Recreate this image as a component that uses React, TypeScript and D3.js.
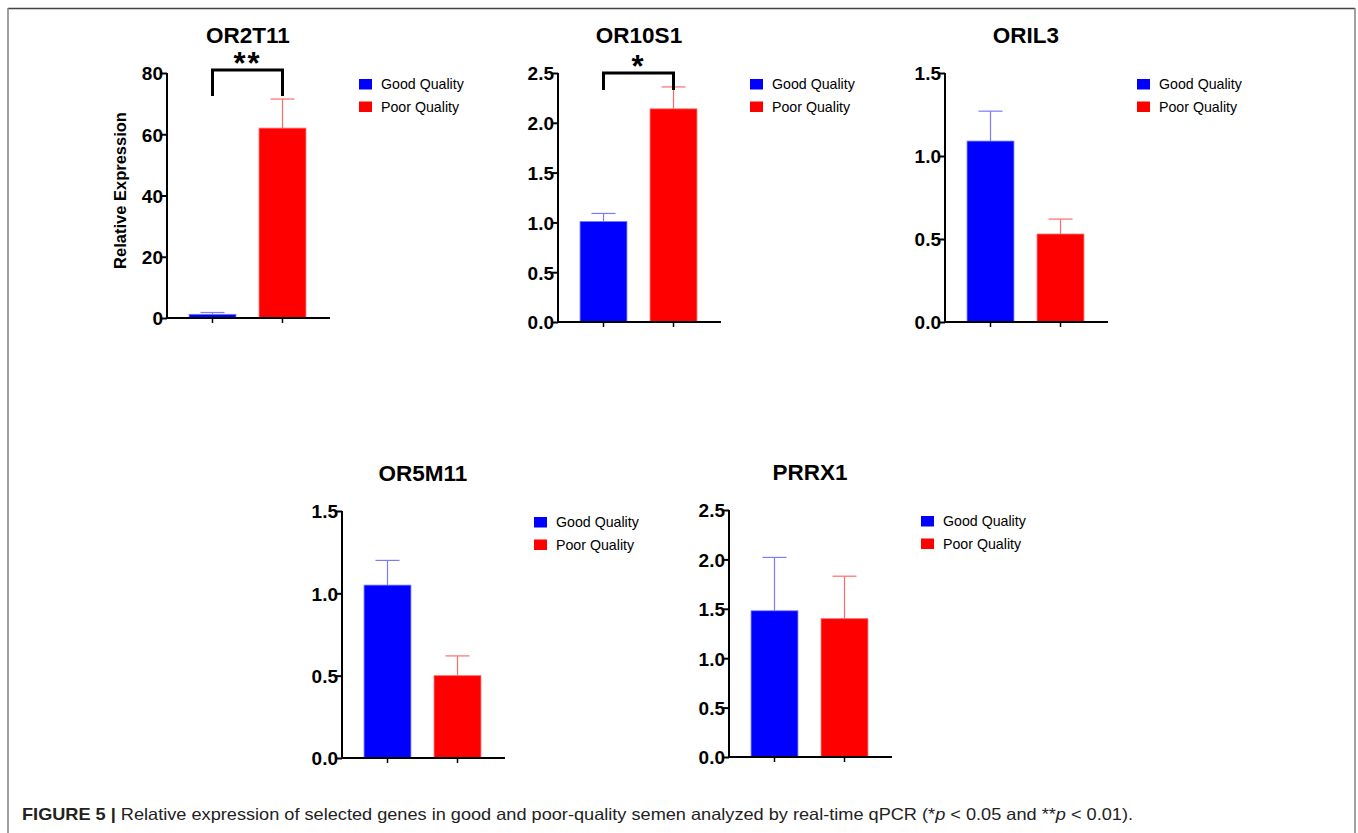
import React, { useEffect, useRef } from "react";
import * as d3 from "d3";

// values
const genes = ["OR2T11", "OR10S1", "ORIL3", "OR5M11", "PRRX1"];
const groups = ["Good Quality", "Poor Quality"];
const goodMean = [1.2, 1.01, 1.09, 1.05, 1.48];
const goodErr = [0.6, 0.08, 0.18, 0.15, 0.54];
const poorMean = [62, 2.14, 0.53, 0.5, 1.4];
const poorErr = [9.5, 0.22, 0.09, 0.12, 0.43];
const yMax = [80, 2.5, 1.5, 1.5, 2.5];
const yTicks = [
  [0, 20, 40, 60, 80],
  [0, 0.5, 1, 1.5, 2, 2.5],
  [0, 0.5, 1, 1.5],
  [0, 0.5, 1, 1.5],
  [0, 0.5, 1, 1.5, 2, 2.5],
];
const signif = ["**", "*", "", "", ""];
const bracketTop = [81, 2.5, 0, 0, 0];
const bracketLeg = [72.5, 2.33, 0, 0, 0];

// panel placement
const panels = [
  { x: 167, top: 73, bottom: 318 },
  { x: 558, top: 73, bottom: 322 },
  { x: 945, top: 73, bottom: 322 },
  { x: 342, top: 511, bottom: 758 },
  { x: 729, top: 510, bottom: 757 },
];
const plotW = 163;
const fills = ["#0000ff", "#ff0000"];
const lights = ["#7b7bff", "#ff6b6b"];
const FONT = "Liberation Sans, Arial, Helvetica, sans-serif";

export default function App() {
  const ref = useRef<SVGSVGElement>(null);

  useEffect(() => {
    const svg = d3.select(ref.current);
    svg.selectAll("*").remove();

    // frame
    svg.append("line").attr("x1", 8).attr("x2", 1355).attr("y1", 8.5).attr("y2", 8.5)
      .attr("stroke", "#444").attr("stroke-width", 1.5);
    svg.append("line").attr("x1", 8).attr("x2", 8).attr("y1", 8).attr("y2", 833)
      .attr("stroke", "#808080").attr("stroke-width", 1.5);
    svg.append("line").attr("x1", 1355).attr("x2", 1355).attr("y1", 8).attr("y2", 833)
      .attr("stroke", "#808080").attr("stroke-width", 1.5);

    genes.forEach((gene, i) => {
      const p = panels[i];
      const g = svg.append("g").attr("transform", `translate(${p.x}, ${p.top})`);
      const h = p.bottom - p.top;

      const x = d3.scaleBand().domain(groups).range([0, 161]).paddingInner(0.33).paddingOuter(0.315);
      const y = d3.scaleLinear().domain([0, yMax[i]]).range([h, 0]);
      const means = [goodMean[i], poorMean[i]];
      const errs = [goodErr[i], poorErr[i]];

      // error bars (upper only)
      groups.forEach((grp, k) => {
        const cx = (x(grp) as number) + x.bandwidth() / 2;
        g.append("line").attr("x1", cx).attr("x2", cx)
          .attr("y1", y(means[k])).attr("y2", y(means[k] + errs[k]))
          .attr("stroke", lights[k]).attr("stroke-width", 1.2);
        g.append("line").attr("x1", cx - 12).attr("x2", cx + 12)
          .attr("y1", y(means[k] + errs[k])).attr("y2", y(means[k] + errs[k]))
          .attr("stroke", lights[k]).attr("stroke-width", 1.2);
      });

      g.selectAll("rect.bar").data(groups).join("rect").attr("class", "bar")
        .attr("x", d => x(d) as number)
        .attr("width", x.bandwidth())
        .attr("y", (d, k) => y(means[k]))
        .attr("height", (d, k) => h - y(means[k]))
        .attr("fill", (d, k) => fills[k])
        .attr("stroke", (d, k) => lights[k]).attr("stroke-width", 0.8);

      const yAxis = d3.axisLeft(y).tickValues(yTicks[i]).tickSize(6).tickPadding(-2)
        .tickFormat(v => (yMax[i] > 10 ? d3.format("d")(v as number) : d3.format(".1f")(v as number)));
      const ya = g.append("g").call(yAxis);
      ya.select(".domain").attr("d", `M0,0V${h}`).attr("stroke-width", 2);
      ya.selectAll(".tick line").attr("stroke-width", 2);
      ya.selectAll(".tick text").attr("font-family", FONT).attr("font-weight", "bold")
        .attr("font-size", 19).attr("fill", "#000").attr("dy", "0.36em");

      const xAxis = d3.axisBottom(x).tickSize(5).tickFormat(() => "");
      const xa = g.append("g").attr("transform", `translate(0, ${h})`).call(xAxis);
      xa.select(".domain").attr("d", `M-1,0H${plotW}`).attr("stroke-width", 2);
      xa.selectAll(".tick line").attr("stroke-width", 1.5);

      // title
      g.append("text").attr("x", 81).attr("y", -30).attr("text-anchor", "middle")
        .attr("font-family", FONT).attr("font-weight", "bold").attr("font-size", 22.5)
        .text(gene);

      // legend
      groups.forEach((grp, k) => {
        g.append("rect").attr("x", 192).attr("y", 6 + k * 22.5).attr("width", 13).attr("height", 10.5)
          .attr("fill", fills[k]);
        g.append("text").attr("x", 214).attr("y", 16 + k * 22.5)
          .attr("font-family", FONT).attr("font-size", 14.2).text(grp);
      });

      // significance bracket
      if (signif[i]) {
        const c0 = (x(groups[0]) as number) + x.bandwidth() / 2;
        const c1 = (x(groups[1]) as number) + x.bandwidth() / 2;
        g.append("path")
          .attr("d", `M${c0},${y(bracketLeg[i])}V${y(bracketTop[i])}H${c1}V${y(bracketLeg[i])}`)
          .attr("fill", "none").attr("stroke", "#000").attr("stroke-width", 3);
        g.append("text").attr("x", (c0 + c1) / 2).attr("y", y(bracketTop[i]) + 4)
          .attr("text-anchor", "middle").attr("font-family", FONT).attr("font-weight", "bold")
          .attr("font-size", 31).attr("letter-spacing", 2).text(signif[i]);
      }

      if (i === 0) {
        g.append("text").attr("transform", `translate(-41, ${h / 2 - 5}) rotate(-90)`)
          .attr("text-anchor", "middle").attr("font-family", FONT).attr("font-weight", "bold")
          .attr("font-size", 16.5).text("Relative Expression");
      }
    });

    // caption
    const cap = svg.append("text").attr("x", 22).attr("y", 820)
      .attr("font-family", FONT).attr("font-size", 16.5).attr("fill", "#222")
      .attr("textLength", 1111).attr("lengthAdjust", "spacingAndGlyphs");
    cap.append("tspan").attr("font-weight", "bold").text("FIGURE 5 | ");
    cap.append("tspan").text("Relative expression of selected genes in good and poor-quality semen analyzed by real-time qPCR (*");
    cap.append("tspan").attr("font-style", "italic").text("p");
    cap.append("tspan").text(" < 0.05 and **");
    cap.append("tspan").attr("font-style", "italic").text("p");
    cap.append("tspan").text(" < 0.01).");
  }, []);

  return (
    <svg ref={ref} width={1358} height={833}
      style={{ position: "absolute", left: 0, top: 0, background: "#fff" }} />
  );
}
